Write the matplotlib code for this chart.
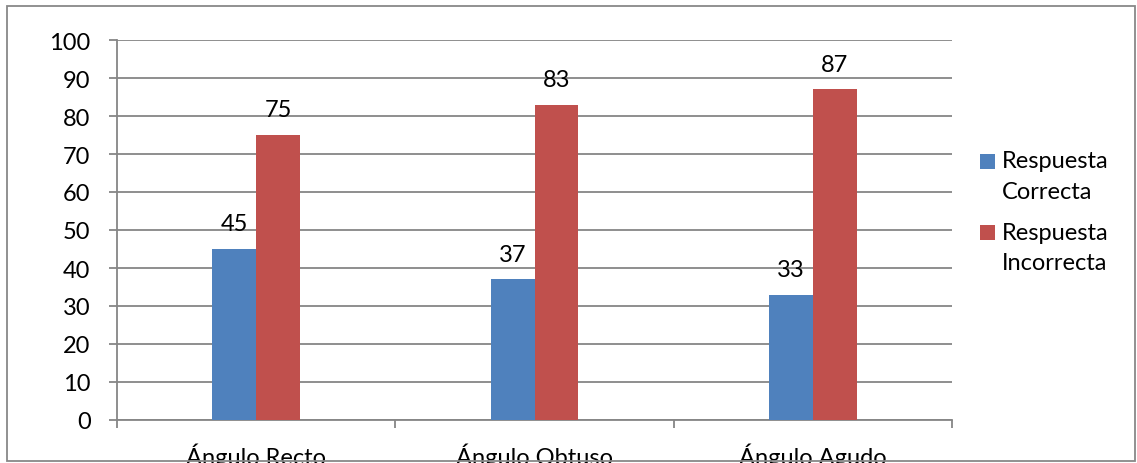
import matplotlib
matplotlib.use('Agg')
import matplotlib.pyplot as plt
from matplotlib.patches import Rectangle
import numpy as np

categories = ['Ángulo Recto', 'Ángulo Obtuso', 'Ángulo Agudo']
correcta = [45, 37, 33]
incorrecta = [75, 83, 87]
series_names = [['Respuesta', 'Correcta'], ['Respuesta', 'Incorrecta']]
y_ticks = list(range(0, 101, 10))

BLUE = '#4F81BD'
RED = '#C0504D'
GRID = '#868686'
FS = 17
W, H = 1137, 464

plt.rcParams['font.family'] = ['Lato', 'DejaVu Sans']

fig = plt.figure(figsize=(W / 100, H / 100), dpi=100)
ax = fig.add_axes([117 / W, 43 / H, (952 - 117) / W, (421 - 41) / H])

x = np.arange(len(categories))
w = 0.158
b1 = ax.bar(x - w / 2, correcta, w, color=BLUE, zorder=3)
b2 = ax.bar(x + w / 2, incorrecta, w, color=RED, zorder=3)

# etiquetas de datos encima de cada barra
for bars in (b1, b2):
    for b in bars:
        ax.annotate(f'{b.get_height():.0f}', (b.get_x() + b.get_width() / 2, b.get_height()),
                    xytext=(0, 13.5), textcoords='offset points',
                    ha='center', va='baseline', fontsize=FS, color='#000000')

ax.set_xlim(-0.5, len(categories) - 0.5)
ax.set_ylim(0, 100)
ax.set_yticks(y_ticks)
ax.yaxis.grid(True, color=GRID, linewidth=1.3, zorder=0)
ax.set_axisbelow(True)

ax.set_xticks(x)
ax.set_xticklabels(categories, fontsize=FS)
ax.set_xticks(np.arange(len(categories) + 1) - 0.5, minor=True)
ax.tick_params(axis='x', which='major', length=0, pad=16)
ax.tick_params(axis='x', which='minor', length=6, width=1.3, color=GRID)
ax.tick_params(axis='y', length=6, width=1.3, color=GRID, labelsize=FS, pad=13)

for s in ('top', 'right'):
    ax.spines[s].set_visible(False)
for s in ('left', 'bottom'):
    ax.spines[s].set_color(GRID)
    ax.spines[s].set_linewidth(1.3)

# leyenda a mano: cuadro alineado con la primera linea del texto
for i, (lines, col) in enumerate(zip(series_names, [BLUE, RED])):
    y0 = 162 + i * 71
    fig.patches.append(Rectangle((980 / W, 1 - (y0 + 7.5) / H), 15 / W, 15 / H,
                                 transform=fig.transFigure, facecolor=col, edgecolor='none'))
    for j, t in enumerate(lines):
        fig.text(1002 / W, 1 - (y0 + j * 31) / H, t, ha='left', va='center', fontsize=FS)

fig.patches.append(Rectangle((7 / W, 2 / H), 1128 / W, 455 / H, transform=fig.transFigure,
                             fill=False, edgecolor='#888888', linewidth=1.3))

fig.savefig('out.png', dpi=100)
